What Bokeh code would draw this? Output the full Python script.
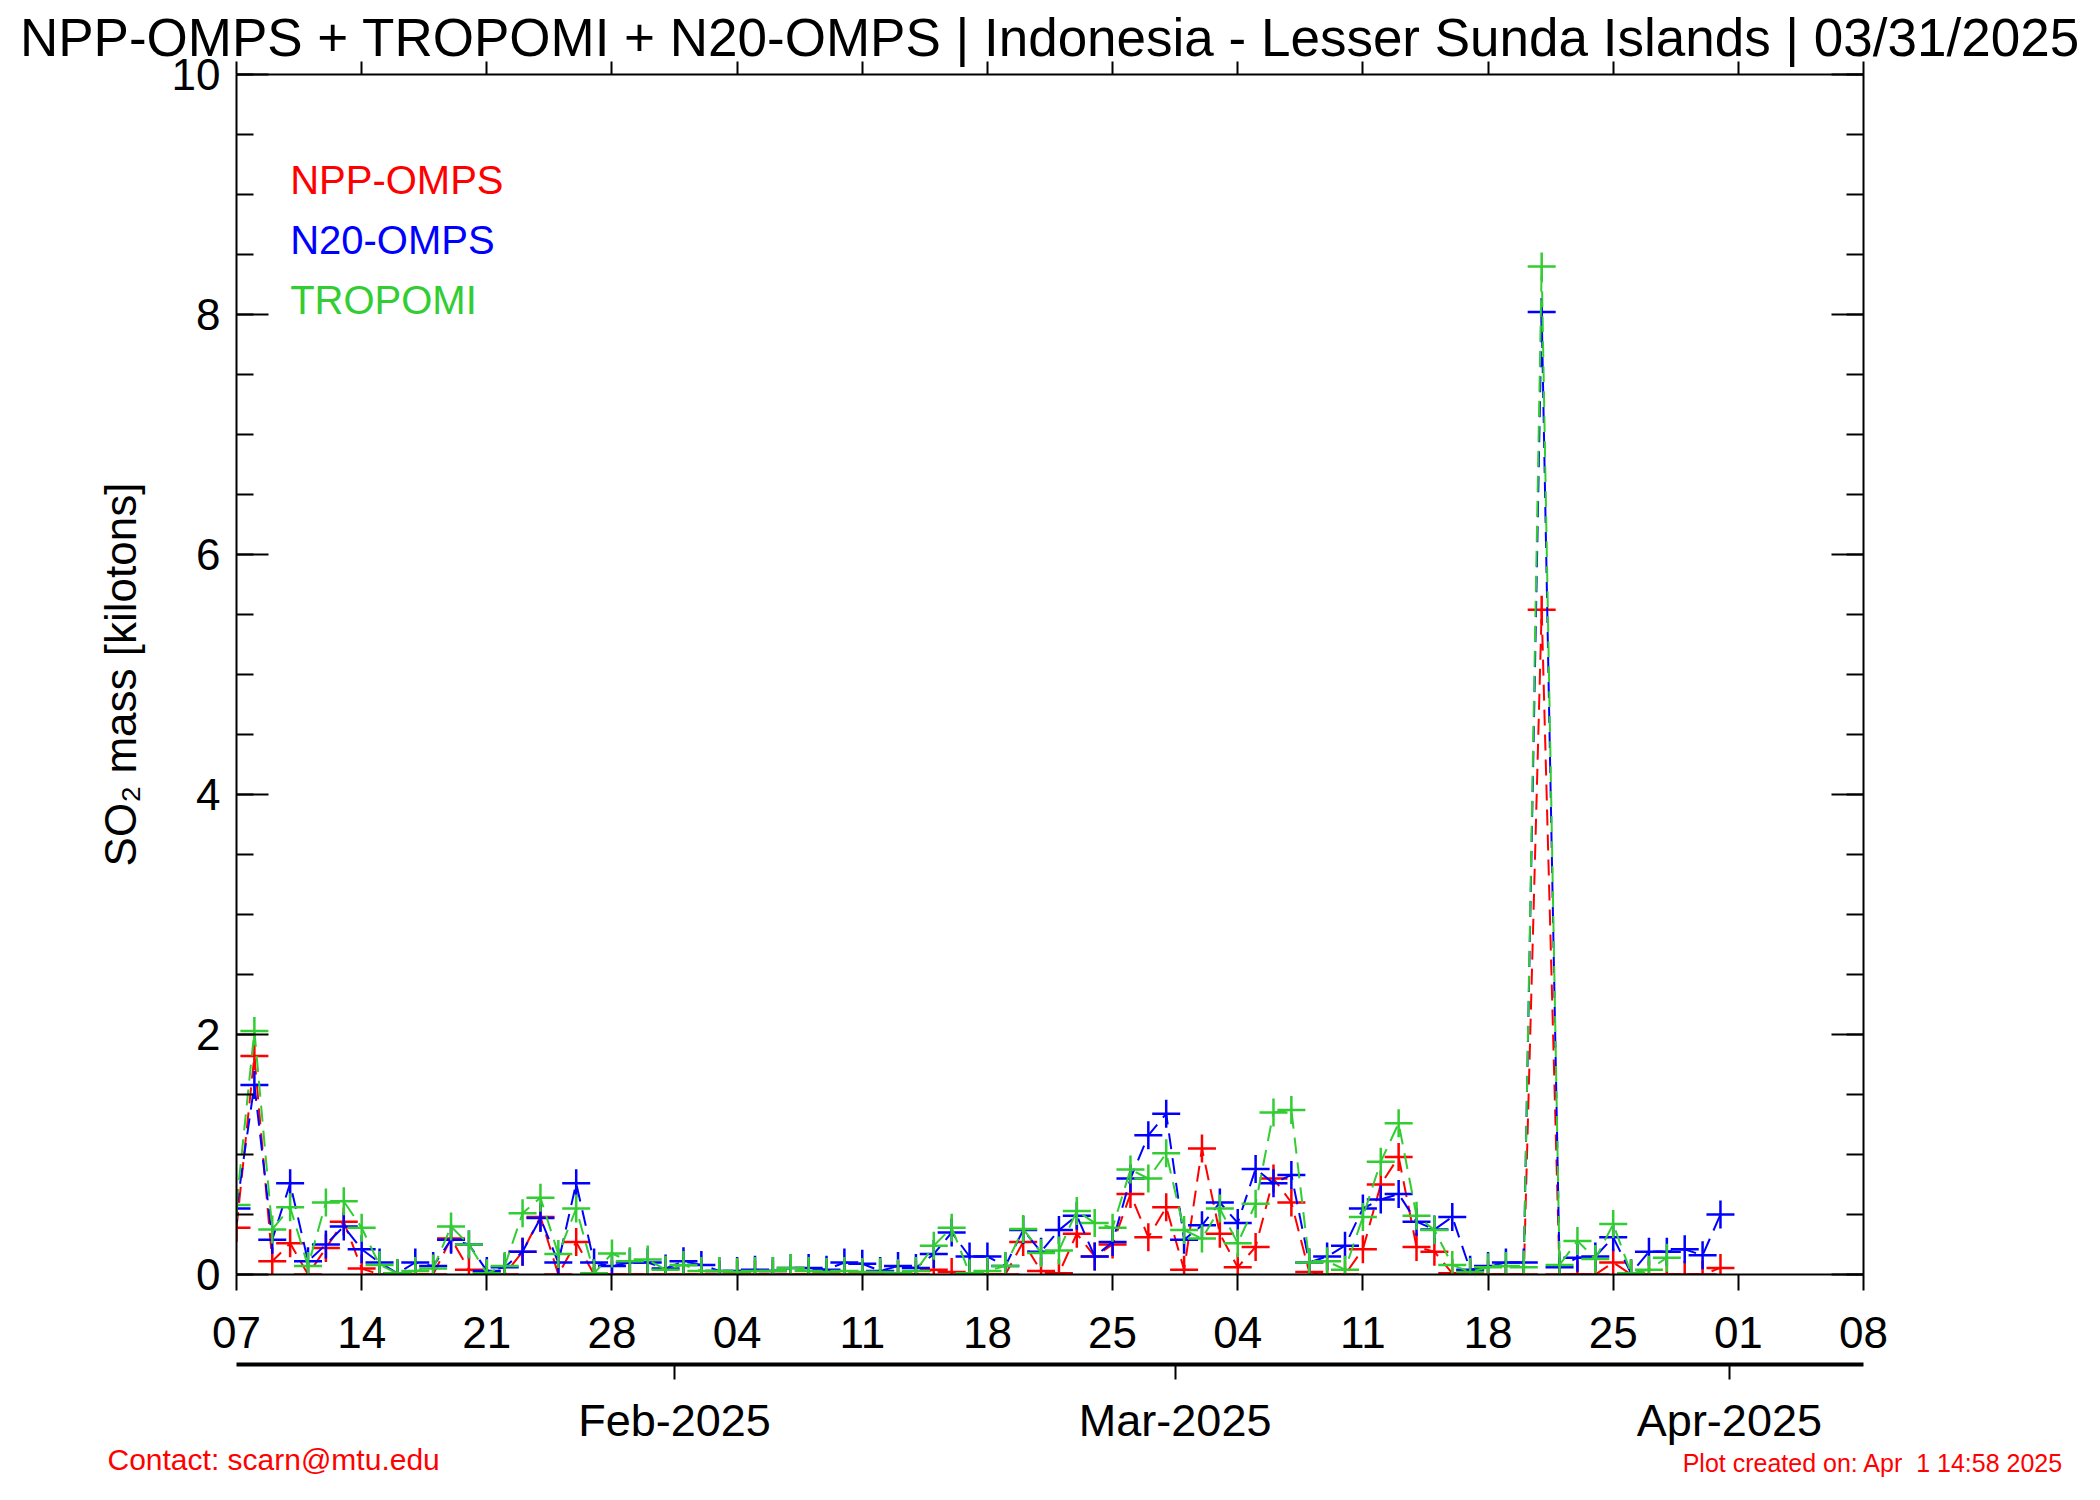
import pandas as pd
from bokeh.plotting import figure
from bokeh.models import (LinearAxis, DatetimeAxis, FixedTicker, DatetimeTickFormatter,
                          Range1d, Label, Title, ColumnDataSource)
from bokeh.embed import file_html
from bokeh.resources import INLINE

# ---------------- data ----------------
title_text = "NPP-OMPS + TROPOMI + N20-OMPS | Indonesia - Lesser Sunda Islands | 03/31/2025"
contact_text = "Contact: scarn@mtu.edu"
created_text = "Plot created on: Apr\u00a0 1 14:58 2025"
y_axis_label = "SO\u2082 mass [kilotons]"
series_names = ["NPP-OMPS", "N20-OMPS", "TROPOMI"]
series_colors = ["#FF0000", "#0000FF", "#32CD32"]

dates_omps = pd.date_range("2025-01-07", periods=84, freq="D")
dates_tropomi = pd.date_range("2025-01-07", periods=81, freq="D")

npp_omps = [0.39, 1.82, 0.11, 0.26, 0.00, 0.22, 0.44, 0.05, 0.00, 0.00,
            0.00, 0.00, 0.30, 0.04, 0.01, 0.00, 0.19, 0.48, 0.00, 0.27,
            0.00, 0.00, 0.00, 0.00, 0.00, 0.00, 0.00, 0.00, 0.00, 0.00,
            0.00, 0.00, 0.00, 0.00, 0.00, 0.00, 0.00, 0.00, 0.00, 0.04,
            0.02, 0.01, 0.00, 0.00, 0.27, 0.03, 0.01, 0.34, 0.15, 0.25,
            0.67, 0.31, 0.56, 0.04, 1.05, 0.34, 0.06, 0.23, 0.80, 0.60,
            0.02, 0.00, 0.00, 0.21, 0.75, 0.98, 0.23, 0.19, 0.01, 0.00,
            0.00, 0.00, 0.00, 5.54, 0.00, 0.00, 0.00, 0.10, 0.00, 0.00,
            0.00, 0.00, 0.00, 0.055]

n20_omps = [0.55, 1.58, 0.29, 0.76, 0.11, 0.25, 0.40, 0.21, 0.10, 0.01,
            0.10, 0.07, 0.29, 0.25, 0.03, 0.06, 0.19, 0.47, 0.10, 0.76,
            0.10, 0.07, 0.10, 0.10, 0.05, 0.11, 0.08, 0.03, 0.03, 0.04,
            0.03, 0.055, 0.055, 0.04, 0.10, 0.09, 0.03, 0.07, 0.055, 0.17,
            0.35, 0.15, 0.15, 0.07, 0.37, 0.19, 0.37, 0.49, 0.15, 0.27,
            0.80, 1.16, 1.34, 0.29, 0.41, 0.60, 0.43, 0.88, 0.76, 0.83,
            0.10, 0.15, 0.24, 0.55, 0.625, 0.67, 0.44, 0.375, 0.48, 0.04,
            0.07, 0.10, 0.10, 8.02, 0.06, 0.14, 0.15, 0.31, 0.01, 0.19,
            0.19, 0.21, 0.16, 0.50]

tropomi = [0.58, 2.03, 0.375, 0.56, 0.07, 0.60, 0.61, 0.39, 0.08, 0.01,
           0.03, 0.05, 0.40, 0.25, 0.01, 0.07, 0.51, 0.64, 0.17, 0.55,
           0.01, 0.175, 0.11, 0.125, 0.04, 0.08, 0.03, 0.03, 0.02, 0.03,
           0.03, 0.055, 0.03, 0.02, 0.03, 0.02, 0.02, 0.01, 0.03, 0.24,
           0.39, 0.01, 0.03, 0.07, 0.38, 0.18, 0.20, 0.53, 0.43, 0.39,
           0.875, 0.80, 1.01, 0.37, 0.30, 0.55, 0.26, 0.59, 1.35, 1.37,
           0.10, 0.11, 0.04, 0.48, 0.94, 1.26, 0.49, 0.37, 0.08, 0.02,
           0.06, 0.07, 0.06, 8.40, 0.08, 0.28, 0.13, 0.42, 0.01, 0.04,
           0.14]

x_start = pd.Timestamp("2025-01-07")
x_end = pd.Timestamp("2025-04-08")
week_ticks = pd.date_range("2025-01-07", "2025-04-08", freq="7D")
month_starts = pd.to_datetime(["2025-02-01", "2025-03-01", "2025-04-01"])
month_labels = ["Feb-2025", "Mar-2025", "Apr-2025"]
y_major = [0, 2, 4, 6, 8, 10]
y_minor = [i * 0.5 for i in range(21)]


def to_ms(ts):
    return [int(t.value // 10**6) for t in ts]


def fixed_fmt(fmt):
    return DatetimeTickFormatter(microseconds=fmt, milliseconds=fmt, seconds=fmt, minsec=fmt,
                                 minutes=fmt, hourmin=fmt, hours=fmt, days=fmt, months=fmt,
                                 years=fmt)


FONT = "Liberation Sans"

# ---------------- figure ----------------
p = figure(x_axis_type="datetime",
           x_range=Range1d(x_start.value // 10**6, x_end.value // 10**6),
           y_range=Range1d(0, 10),
           frame_width=1627, frame_height=1200,
           min_border_left=236, min_border_right=237,
           min_border_top=74, min_border_bottom=226,
           output_backend="svg", toolbar_location=None,
           background_fill_color="white", border_fill_color="white",
           outline_line_color=None)
p.grid.visible = False

# title
p.title.text = title_text
p.title.align = "center"
p.title.vertical_align = "bottom"
p.title.text_font = FONT
p.title.text_font_size = "53px"
p.title.text_font_style = "normal"
p.title.text_color = "black"
p.title.standoff = -10

# bottom primary axis (days)
xa = p.xaxis[0]
xa.ticker = FixedTicker(ticks=to_ms(week_ticks))
xa.formatter = fixed_fmt("%d")
xa.major_tick_in = 0
xa.major_tick_out = 16
xa.minor_tick_line_color = None
xa.major_tick_line_width = 2
xa.axis_line_width = 2
xa.major_label_standoff = 26
xa.major_label_text_font = FONT
xa.major_label_text_font_size = "44px"
xa.major_label_text_color = "black"
xa.axis_label = " "
xa.axis_label_text_font_size = "10px"
xa.axis_label_standoff = 0

# left axis
ya = p.yaxis[0]
ya.ticker = FixedTicker(ticks=y_major, minor_ticks=y_minor)
ya.major_tick_in = 32
ya.major_tick_out = 0
ya.minor_tick_in = 17
ya.minor_tick_out = 0
ya.major_tick_line_width = 2
ya.minor_tick_line_width = 2
ya.axis_line_width = 2
ya.major_label_standoff = 16
ya.major_label_text_font = FONT
ya.major_label_text_font_size = "44px"
ya.major_label_text_color = "black"
ya.axis_label = y_axis_label
ya.axis_label_text_font = FONT
ya.axis_label_text_font_size = "44px"
ya.axis_label_text_font_style = "normal"
ya.axis_label_text_color = "black"
ya.axis_label_standoff = 24

# right axis (ticks only)
ra = LinearAxis(ticker=FixedTicker(ticks=y_major, minor_ticks=y_minor),
                major_tick_in=32, major_tick_out=0, minor_tick_in=17, minor_tick_out=0,
                major_tick_line_width=2, minor_tick_line_width=2, axis_line_width=2,
                major_label_text_color=None, major_label_text_font_size="1px",
                major_label_standoff=0)
p.add_layout(ra, "right")

# top axis (ticks only)
ta = DatetimeAxis(ticker=FixedTicker(ticks=to_ms(week_ticks)),
                  major_tick_in=0, major_tick_out=13, minor_tick_line_color=None,
                  major_tick_line_width=2, axis_line_width=2,
                  major_label_text_color=None, major_label_text_font_size="1px",
                  major_label_standoff=0)
p.add_layout(ta, "above")

# secondary bottom axis (months); the reference puts these ticks half a day early
month_tick_ms = to_ms([m - pd.Timedelta(hours=12) for m in month_starts])
ma = DatetimeAxis(ticker=FixedTicker(ticks=month_tick_ms),
                  formatter=fixed_fmt("%b-%Y"),
                  major_label_overrides={t: lab for t, lab in zip(month_tick_ms, month_labels)},
                  major_tick_in=0, major_tick_out=15, minor_tick_line_color=None,
                  major_tick_line_width=2, axis_line_width=4,
                  major_label_standoff=15, major_label_text_font=FONT,
                  major_label_text_font_size="45px", major_label_text_color="black")
p.add_layout(ma, "below")

# footers
p.add_layout(Title(text=contact_text, align="left", offset=-129, vertical_align="top",
                   standoff=-12, text_font=FONT, text_font_size="30px",
                   text_font_style="normal", text_color="#FF0000"), "below")
p.add_layout(Title(text=created_text, align="right", offset=-200, vertical_align="top",
                   standoff=-46, text_font=FONT, text_font_size="25px",
                   text_font_style="normal", text_color="#FF0000"), "below")

# ---------------- data series ----------------
series = [(dates_omps, npp_omps, series_colors[0]),
          (dates_omps, n20_omps, series_colors[1]),
          (dates_tropomi, tropomi, series_colors[2])]
for d, v, c in series:
    src = ColumnDataSource(dict(x=to_ms(d), y=v))
    p.line("x", "y", source=src, line_color=c, line_width=2, line_dash="16 9")
    p.scatter("x", "y", source=src, marker="cross", size=28, line_color=c, line_width=2.5)

# legend texts (coloured labels)
legend_x = pd.Timestamp("2025-01-10").value // 10**6
for name, c, yy in zip(series_names, series_colors, [9.12, 8.62, 8.12]):
    p.add_layout(Label(x=legend_x, y=yy, text=name, text_color=c, text_font=FONT,
                       text_font_size="40px", text_align="left", text_baseline="middle"))

open("out.html", "w").write(file_html(p, INLINE))
